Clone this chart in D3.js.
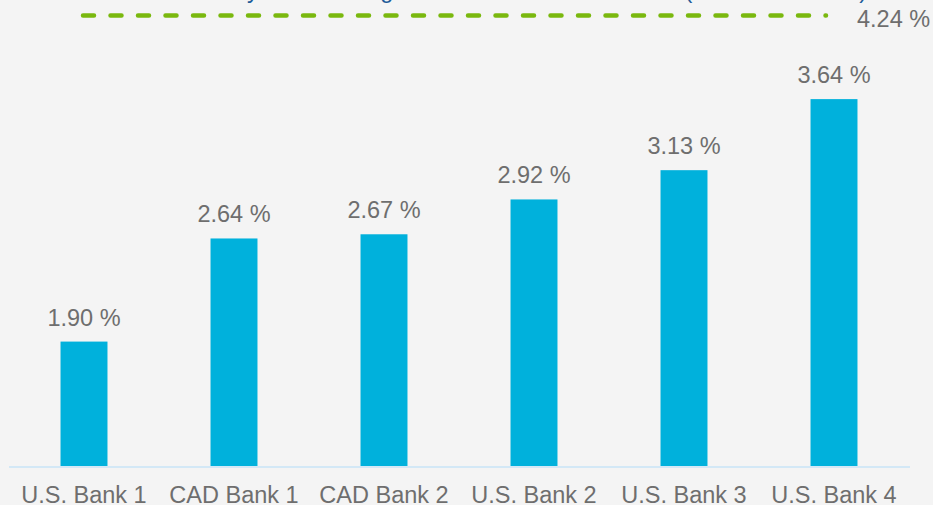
<!DOCTYPE html>
<html>
<head>
<meta charset="utf-8">
<script src="https://cdn.jsdelivr.net/npm/d3@7"></script>
<style>
  html, body { margin: 0; padding: 0; background: #f4f4f4; }
  svg { display: block; font-family: Arial, "Liberation Sans", sans-serif; }
</style>
</head>
<body>
<svg id="chart" width="933" height="505"></svg>
<script>
const categories = ["U.S. Bank 1", "CAD Bank 1", "CAD Bank 2", "U.S. Bank 2", "U.S. Bank 3", "U.S. Bank 4"];
const values = [1.90, 2.64, 2.67, 2.92, 3.13, 3.64];
const referenceValue = 4.24;
const referenceTitle = "Industry-wide average of all selected U.S. banks (FY 2019 – 2021)";
const fmt = v => v.toFixed(2) + " %";

const svg = d3.select("#chart");
svg.append("rect").attr("width", 933).attr("height", 505).attr("fill", "#f4f4f4");

const x = d3.scaleBand().domain(categories).range([9, 909]).paddingInner(0.687).paddingOuter(0.3435);
const y = d3.scaleLinear().domain([1, referenceValue]).range([467, 15.5]);

// bars
svg.selectAll("rect.bar").data(values).enter().append("rect")
  .attr("class", "bar")
  .attr("x", (d, i) => x(categories[i]))
  .attr("width", x.bandwidth())
  .attr("y", d => y(d))
  .attr("height", d => y(1) - y(d))
  .attr("fill", "#00b1dc");

// value labels
svg.selectAll("text.val").data(values).enter().append("text")
  .attr("class", "val")
  .attr("x", (d, i) => x(categories[i]) + x.bandwidth() / 2)
  .attr("y", d => y(d) - 16)
  .attr("text-anchor", "middle")
  .attr("font-size", "23.5px")
  .attr("fill", "#6e6e6e")
  .text(fmt);

// baseline axis
const xAxis = d3.axisBottom(x).tickSize(0).tickPadding(19);
const gx = svg.append("g").attr("transform", `translate(0,${y(1)})`).call(xAxis);
gx.select(".domain").attr("stroke", "#d3e8f6").attr("stroke-width", 2).attr("d", "M9,0H910");
gx.selectAll("text").attr("font-size", "23.5px").attr("fill", "#6e6e6e")
  .attr("font-family", "Arial, 'Liberation Sans', sans-serif").attr("dy", "0.71em");

// reference dashed line
svg.append("line")
  .attr("x1", x(categories[0]) + x.bandwidth() / 2 - 1)
  .attr("x2", x(categories[categories.length - 1]) + x.bandwidth() / 2 - 8)
  .attr("y1", y(referenceValue)).attr("y2", y(referenceValue))
  .attr("stroke", "#7ab80e").attr("stroke-width", 4.5)
  .attr("stroke-linecap", "round")
  .attr("stroke-dasharray", "11,16.5");

svg.append("text")
  .attr("x", 857).attr("y", y(referenceValue) + 11.5)
  .attr("font-size", "23.5px").attr("fill", "#6e6e6e")
  .text(fmt(referenceValue));

// cut-off title above the reference line
svg.append("text")
  .attr("x", 867).attr("y", -2)
  .attr("text-anchor", "end")
  .attr("font-size", "23.5px").attr("fill", "#1f5c99")
  .text(referenceTitle);
</script>
</body>
</html>
